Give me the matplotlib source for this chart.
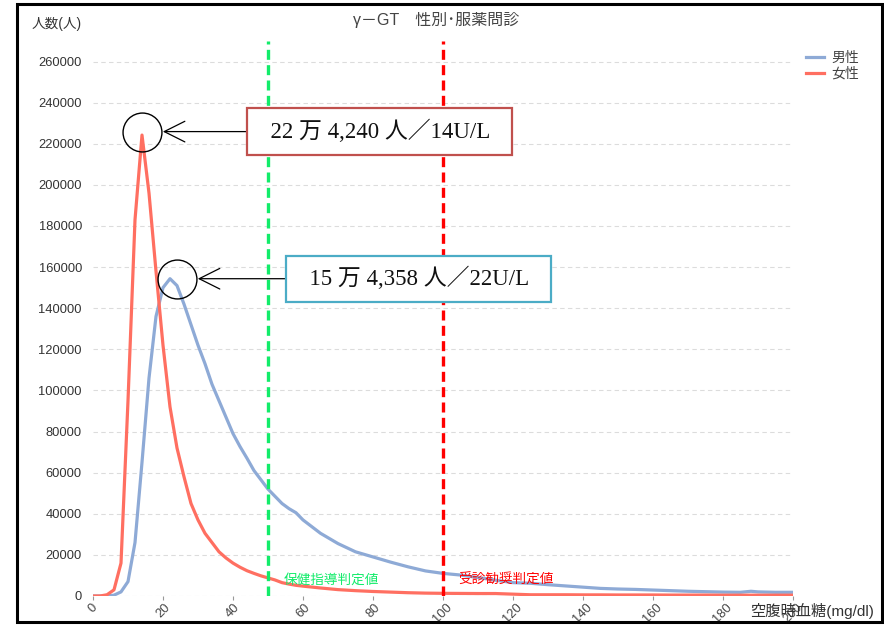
import numpy as np
import matplotlib
matplotlib.use('Agg')
import matplotlib.pyplot as plt
from matplotlib.patches import Rectangle
from matplotlib.transforms import ScaledTranslation

plt.rcParams['font.family'] = ['Liberation Sans', 'Noto Sans CJK JP', 'DejaVu Sans']

# gamma-GT value (U/L) and number of people
gt_x = [0, 2, 4, 6, 8, 10, 12, 14, 16, 18, 20, 22, 24, 26, 28, 30, 32, 34, 36, 38,
        40, 42, 44, 46, 48, 50, 52, 54, 56, 58, 60, 65, 70, 75, 80, 85, 90, 95, 100,
        105, 110, 115, 120, 125, 130, 135, 140, 145, 150, 155, 160, 165, 170, 175,
        180, 185, 188, 190, 195, 200]

male = [0, 0, 0, 400, 2000, 7000, 26000, 65000, 106000, 136000, 150000, 154358,
        151000, 142000, 132000, 122000, 113000, 103000, 95000, 87000,
        79000, 72700, 67000, 61000, 56500, 52000, 48500, 45000, 42500, 40500,
        37000, 30500, 25500, 21500, 19000, 16500, 14200, 12200, 11000,
        10200, 9000, 7700, 6500, 6200, 5500, 4900, 4300, 3700, 3400, 3200,
        2900, 2600, 2300, 2100, 1900, 1800, 2300, 2000, 1800, 1800]

female = [0, 0, 600, 3000, 16000, 95000, 183000, 224240, 196000, 158000, 122000,
          92000, 72000, 58000, 45000, 37000, 30500, 26000, 21500, 18500,
          16000, 14000, 12300, 11000, 9800, 8800, 7800, 6500, 5800, 5200,
          4800, 3900, 3100, 2600, 2200, 1900, 1600, 1400, 1300,
          1250, 1200, 1200, 900, 600, 600, 600, 550, 550, 500, 500,
          500, 450, 450, 450, 400, 400, 400, 400, 400, 400]

series_labels = ['男性', '女性']
guide_value = 50      # 保健指導判定値
referral_value = 100  # 受診勧奨判定値

fig = plt.figure(figsize=(8.84, 6.27), dpi=100)
ax = fig.add_axes([93/884, 1 - 596/627, 700/884, 555/627])

ax.plot(gt_x, male, color='#8eaad6', lw=2.3, label=series_labels[0], solid_joinstyle='round')
ax.plot(gt_x, female, color='#ff6f61', lw=2.3, label=series_labels[1], solid_joinstyle='round')

ax.axvline(guide_value, color='#12ec6a', lw=2.4, ls=(0, (3, 1.6)), zorder=3)
ax.axvline(referral_value, color='#ff0000', lw=2.4, ls=(0, (3, 1.6)), zorder=3)
ax.annotate('保健指導判定値', xy=(guide_value, 0), xycoords=('data', 'axes fraction'),
            xytext=(11, 12), textcoords='offset points', color='#12ec6a', fontsize=9.8, va='center')
ax.annotate('受診勧奨判定値', xy=(referral_value, 0), xycoords=('data', 'axes fraction'),
            xytext=(11, 12), textcoords='offset points', color='#ff0000', fontsize=9.8, va='center')

ax.set_xlim(0, 200)
ax.set_ylim(0, 270000)
ax.set_yticks(np.arange(0, 260001, 20000))
ax.set_xticks(np.arange(0, 201, 20))
ax.grid(axis='y', color='#dcdcdc', ls=(0, (4, 3)), lw=0.8)
ax.set_axisbelow(True)
for s in ax.spines.values():
    s.set_visible(False)
ax.tick_params(axis='y', length=0, labelsize=9.3, labelcolor='#333333', pad=8)
ax.tick_params(axis='x', length=3, color='#999999', labelsize=9.3, labelcolor='#444444',
               labelrotation=45, pad=1)

# peak call-outs
circle_pt = 28
box_font = ['Liberation Serif', 'Noto Sans CJK JP']
peaks = [(female, '22 万 4,240 人／14U/L', '#c0504d', 171, (0, 2.5)),
         (male, '15 万 4,358 人／22U/L', '#4bacc6', 179, (5, 0))]
for vals, txt, edge, dx, coff in peaks:
    i = int(np.argmax(vals))
    px, py = gt_x[i], vals[i]
    ctr = ax.transData + ScaledTranslation(coff[0] / 72, coff[1] / 72, fig.dpi_scale_trans)
    ax.plot([px], [py], marker='o', ms=circle_pt, mfc='none', mec='black', mew=1.0,
            transform=ctr, zorder=5)
    ax.annotate('  ' + txt + '  ', xy=(px, py), xycoords=ctr, xytext=(dx - coff[0], 0),
                textcoords='offset points',
                ha='center', va='center', fontsize=16.5, family=box_font, color='#111111',
                bbox=dict(boxstyle='square,pad=0.5', fc='white', ec=edge, lw=1.6),
                arrowprops=dict(arrowstyle='->,head_length=0.9,head_width=0.45', color='black',
                                lw=0.9, relpos=(0, 0.5), shrinkA=0, shrinkB=circle_pt / 2 + 1),
                zorder=6)

fig.text(436/884, 1 - 20/627, 'γ－GT　性別･服薬問診', ha='center', va='center',
         fontsize=11.5, color='#444444')
fig.text(32/884, 1 - 24/627, '人数(人)', ha='left', va='center', fontsize=9.8, color='#333333')
fig.text(750/884, 1 - 611/627, '空腹時血糖(mg/dl)', ha='left', va='center', fontsize=11,
         color='#333333')

fig.legend(loc='upper left', bbox_to_anchor=(806/884, 1 - 51/627), frameon=False,
           fontsize=10, handlelength=1.3, handletextpad=0.5, labelspacing=0.1,
           borderaxespad=0, borderpad=0, labelcolor='#444444')

fig.patches.append(Rectangle((17/884, 1 - 622/627), (882 - 17)/884, (622 - 4)/627,
                             transform=fig.transFigure, fill=False, ec='black', lw=2.2, zorder=10))

fig.savefig('out.png', dpi=100)
